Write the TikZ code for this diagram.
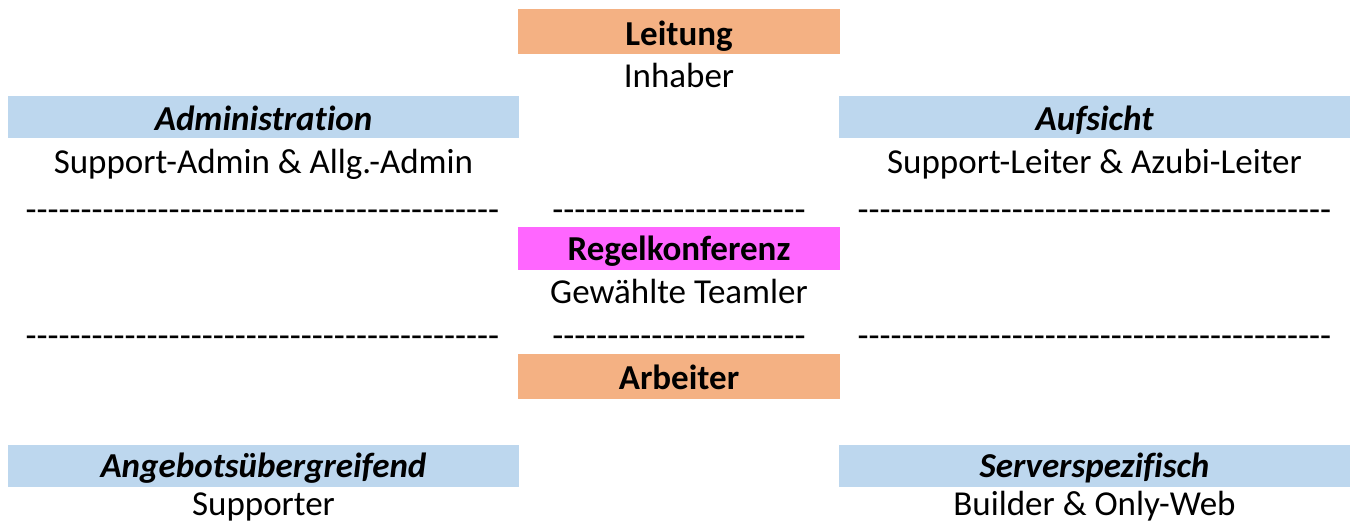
\documentclass[tikz,border=0pt]{standalone}
\usepackage{fontspec}
\setmainfont{Carlito}[Ligatures={NoCommon}]
\newfontfamily\plainfont{Carlito}
\definecolor{orangefill}{HTML}{F4B183}
\definecolor{bluefill}{HTML}{BDD7EE}
\definecolor{pinkfill}{HTML}{FF66FF}
\tikzset{
  head/.style={anchor=base, inner sep=0pt, font=\fontsize{35}{40}\selectfont\bfseries},
  ihead/.style={anchor=base, inner sep=0pt, font=\fontsize{35}{40}\selectfont\bfseries\itshape},
  body/.style={anchor=base, inner sep=0pt, font=\fontsize{35}{40}\selectfont},
  dashline/.style={anchor=center, inner sep=0pt, font=\plainfont\fontsize{36}{40}\selectfont},
}
\begin{document}
\begin{tikzpicture}[x=1pt,y=-1pt]
\useasboundingbox (0,0) rectangle (1352,526);
% bars
\fill[orangefill] (518,9) rectangle (840,54);
\fill[bluefill] (8,96) rectangle (519,138);
\fill[bluefill] (839,96) rectangle (1350,138);
\fill[pinkfill] (518,227) rectangle (840,270);
\fill[orangefill] (518,354) rectangle (840,399);
\fill[bluefill] (8,445) rectangle (519,487);
\fill[bluefill] (839,445) rectangle (1350,487);
% texts
\node[head] (leitung) at (679,46) {Leitung};
\node[body] (inhaber) at (679,88) {Inhaber};
\node[ihead] (admin) at (263.5,131) {Administration};
\node[body] (admintx) at (263.5,173.5) {Support-Admin \& Allg.-Admin};
\node[ihead] (aufsicht) at (1094.5,131) {Aufsicht};
\node[body] (aufsichttx) at (1094.5,173.5) {Support-Leiter \& Azubi-Leiter};
\node[head] (regel) at (679,261) {Regelkonferenz};
\node[body] (regeltx) at (679,303.5) {Gewählte Teamler};
\node[head] (arbeiter) at (679,390) {Arbeiter};
\node[ihead] (angebot) at (263.5,477) {Angebotsübergreifend};
\node[body] (angebottx) at (263.5,515) {Supporter};
\node[ihead] (server) at (1094.5,477) {Serverspezifisch};
\node[body] (servertx) at (1094.5,515) {Builder \& Only-Web};
% dash rows
\node[dashline] (d1l) at (262.5,216) {-------------------------------------------};
\node[dashline] (d1m) at (679,216) {-----------------------};
\node[dashline] (d1r) at (1094.5,216) {-------------------------------------------};
\node[dashline] (d2l) at (262.5,342) {-------------------------------------------};
\node[dashline] (d2m) at (679,342) {-----------------------};
\node[dashline] (d2r) at (1094.5,342) {-------------------------------------------};
\end{tikzpicture}
\end{document}
